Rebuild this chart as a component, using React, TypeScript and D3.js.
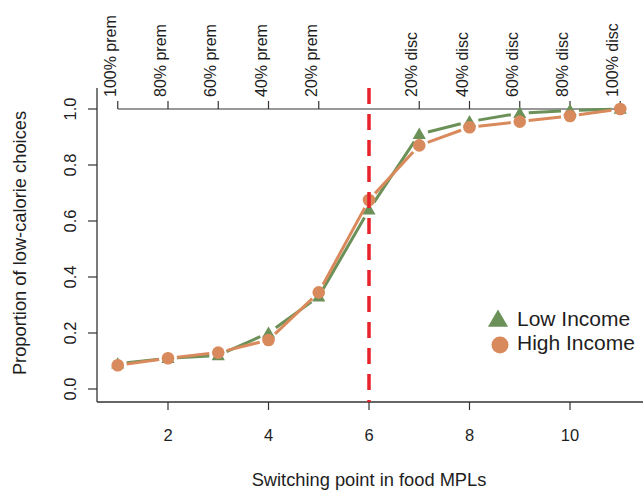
import React from "react";
import * as d3 from "d3";

// switching point (x) and share of low-calorie choices per income group
const switchPoints = [1, 2, 3, 4, 5, 6, 7, 8, 9, 10, 11];
const lowIncome = [0.09, 0.11, 0.12, 0.2, 0.33, 0.64, 0.91, 0.955, 0.985, 0.995, 1.0];
const highIncome = [0.085, 0.11, 0.13, 0.175, 0.345, 0.675, 0.87, 0.935, 0.955, 0.975, 1.0];

const bottomTicks = [2, 4, 6, 8, 10];
const leftTicks = [0, 0.2, 0.4, 0.6, 0.8, 1.0];
const topTickPos = [1, 2, 3, 4, 5, 7, 8, 9, 10, 11];
const topTickLabels = [
  "100% prem", "80% prem", "60% prem", "40% prem", "20% prem",
  "20% disc", "40% disc", "60% disc", "80% disc", "100% disc",
];
const cutoff = 6;

const W = 643;
const H = 493;
const FONT = "'Liberation Sans', Arial, Helvetica, sans-serif";
const GREEN = "#6b9159";
const ORANGE = "#d98a5c";
const RED = "#e8222a";
const INK = "#1e1e1e";

const x = d3.scaleLinear().domain([1, 11]).range([117.75, 620.25]);
const y = d3.scaleLinear().domain([0, 1]).range([389, 109]);

const plotTop = 88;
const plotBottom = 402;
const plotLeft = 97;

// R style type="b": segments between points with a gap around each marker
function gappedSegments(vals: number[], gap = 9) {
  const segs: string[] = [];
  for (let i = 0; i < vals.length - 1; i++) {
    const x1 = x(switchPoints[i]), y1 = y(vals[i]);
    const x2 = x(switchPoints[i + 1]), y2 = y(vals[i + 1]);
    const len = Math.hypot(x2 - x1, y2 - y1);
    if (len <= gap * 2) continue;
    const ux = (x2 - x1) / len, uy = (y2 - y1) / len;
    segs.push(
      `M${x1 + ux * gap},${y1 + uy * gap}L${x2 - ux * gap},${y2 - uy * gap}`
    );
  }
  return segs.join("");
}

const triangle = d3.symbol().type(d3.symbolTriangle);

export default function App() {
  return (
    <svg
      width={W}
      height={H}
      style={{ position: "absolute", left: 0, top: 0, background: "#fff" }}
      fontFamily={FONT}
    >
      {/* box: left and bottom */}
      <line x1={plotLeft} x2={plotLeft} y1={plotTop} y2={plotBottom} stroke="#333" strokeWidth={1.3} />
      <line x1={plotLeft} x2={W} y1={plotBottom} y2={plotBottom} stroke="#333" strokeWidth={1.3} />

      {/* bottom axis */}
      {bottomTicks.map((t) => (
        <g key={t}>
          <line x1={x(t)} x2={x(t)} y1={plotBottom} y2={plotBottom + 8} stroke="#333" strokeWidth={1.2} />
          <text x={x(t)} y={441} textAnchor="middle" fontSize={16.5} fill={INK}>
            {t}
          </text>
        </g>
      ))}
      <text x={369} y={486} textAnchor="middle" fontSize={18.3} fill={INK}>
        Switching point in food MPLs
      </text>

      {/* left axis */}
      {leftTicks.map((t) => (
        <g key={t}>
          <line x1={plotLeft - 9} x2={plotLeft} y1={y(t)} y2={y(t)} stroke="#333" strokeWidth={1.2} />
          <text
            transform={`translate(76,${y(t)}) rotate(-90)`}
            textAnchor="middle"
            fontSize={16.5}
            fill={INK}
          >
            {t.toFixed(1)}
          </text>
        </g>
      ))}
      <text
        transform={`translate(26,243) rotate(-90)`}
        textAnchor="middle"
        fontSize={18.3}
        fill={INK}
      >
        Proportion of low-calorie choices
      </text>

      {/* top axis */}
      <line x1={x(1)} x2={x(11)} y1={y(1)} y2={y(1)} stroke="#333" strokeWidth={1.2} />
      {topTickPos.map((t, i) => (
        <g key={t}>
          <line x1={x(t)} x2={x(t)} y1={y(1)} y2={y(1) - 8} stroke="#333" strokeWidth={1.2} />
          <text
            transform={`translate(${x(t) - 2},${y(1) - 12}) rotate(-90)`}
            textAnchor="start"
            fontSize={16}
            fill={INK}
          >
            {topTickLabels[i]}
          </text>
        </g>
      ))}

      {/* low income */}
      <path d={gappedSegments(lowIncome)} stroke={GREEN} strokeWidth={3} fill="none" />
      {lowIncome.map((v, i) => (
        <path
          key={i}
          d={triangle.size(75)() as string}
          transform={`translate(${x(switchPoints[i])},${y(v) + 1})`}
          fill={GREEN}
        />
      ))}

      {/* high income */}
      <path d={gappedSegments(highIncome)} stroke={ORANGE} strokeWidth={3} fill="none" />
      {highIncome.map((v, i) => (
        <circle key={i} cx={x(switchPoints[i])} cy={y(v)} r={6.3} fill={ORANGE} />
      ))}

      {/* cutoff */}
      <line
        x1={x(cutoff)}
        x2={x(cutoff)}
        y1={plotTop}
        y2={plotBottom}
        stroke={RED}
        strokeWidth={3.5}
        strokeDasharray="16,10"
      />

      {/* legend */}
      <path d={triangle.size(175)() as string} transform="translate(498,321)" fill={GREEN} />
      <text x={517} y={326} fontSize={21} fill={INK}>Low Income</text>
      <circle cx={500} cy={345} r={8.5} fill={ORANGE} />
      <text x={517} y={350} fontSize={21} fill={INK}>High Income</text>
    </svg>
  );
}
